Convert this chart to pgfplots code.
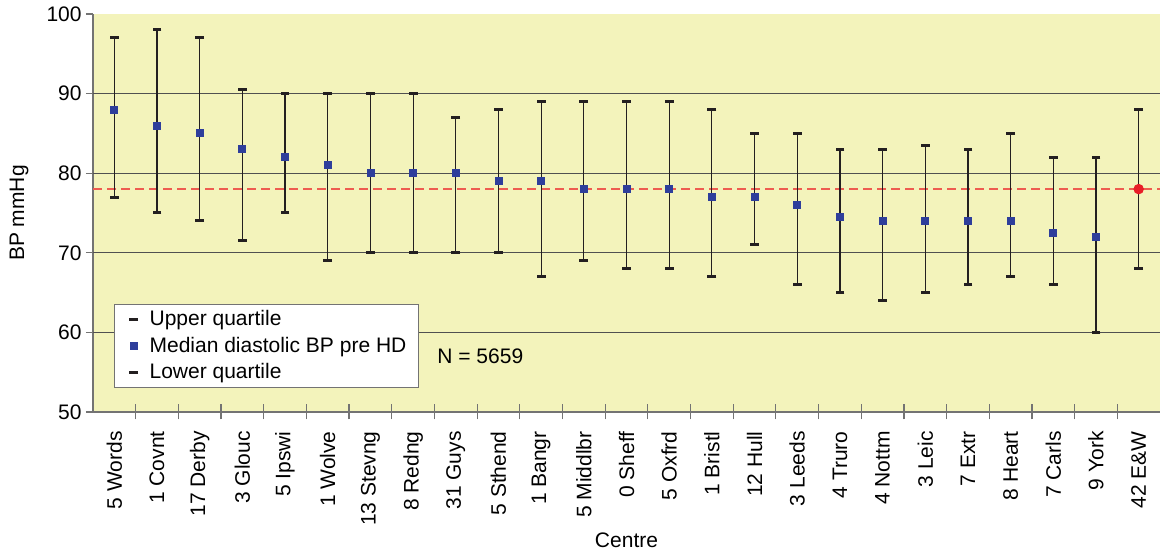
\documentclass[border=0pt]{standalone}
\usepackage{fontspec}
\setmainfont{Liberation Sans}
\usepackage{pgfplots}
\usepackage{pgfplotstable}
\pgfplotsset{compat=1.18}

\definecolor{bgyellow}{RGB}{243,243,187}
\definecolor{medblue}{RGB}{46,62,155}
\definecolor{dashred}{RGB}{238,92,80}
\definecolor{dotred}{RGB}{232,30,40}
\definecolor{capcol}{RGB}{35,31,32}
\definecolor{gridcol}{RGB}{80,80,80}
\definecolor{axiscol}{RGB}{115,115,115}

% diastolic BP pre HD by centre: upper quartile, median, lower quartile
\pgfplotstableread{
x  up    med   lo
1  97    88    77
2  98    86    75
3  97    85    74
4  90.5  83    71.5
5  90    82    75
6  90    81    69
7  90    80    70
8  90    80    70
9  87    80    70
10 88    79    70
11 89    79    67
12 89    78    69
13 89    78    68
14 89    78    68
15 88    77    67
16 85    77    71
17 85    76    66
18 83    74.5  65
19 83    74    64
20 83.5  74    65
21 83    74    66
22 85    74    67
23 82    72.5  66
24 82    72    60
25 88    78    68
}\bpdata

\newcommand{\lblfont}{\fontsize{10.5}{12.6}\selectfont}

\begin{document}
\begin{tikzpicture}
\begin{axis}[
  scale only axis,
  width=533.5pt, height=199pt,
  xmin=0.5, xmax=25.5,
  ymin=50, ymax=100,
  axis lines=left,
  axis line style={-, axiscol, line width=0.6pt},
  axis background/.style={fill=bgyellow},
  ytick={50,60,...,100},
  extra y ticks={60,70,80,90},
  extra y tick labels={},
  extra y tick style={ymajorgrids=true, major tick length=0pt},
  grid style={gridcol, line width=0.6pt},
  xtick={1,...,25},
  xticklabels={5 Words,1 Covnt,17 Derby,3 Glouc,5 Ipswi,1 Wolve,13 Stevng,8 Redng,31 Guys,5 Sthend,1 Bangr,5 Middlbr,0 Sheff,5 Oxfrd,1 Bristl,12 Hull,3 Leeds,4 Truro,4 Nottm,3 Leic,7 Extr,8 Heart,7 Carls,9 York,42 E\&W},
  major x tick style={draw=none},
  minor xtick={1.5,2.5,...,24.5},
  minor x tick style={axiscol, line width=0.6pt, yshift=3.75pt},
  minor tick length=7.5pt,
  major tick length=3.5pt,
  tick align=outside,
  y tick style={axiscol, line width=0.6pt},
  tick label style={font=\lblfont},
  /pgf/number format/assume math mode=true,
  x tick label style={rotate=90, anchor=east, inner sep=0pt},
  xticklabel shift=6pt,
  yticklabel style={inner sep=2pt},
  xlabel={Centre},
  ylabel={BP mmHg},
  label style={font=\lblfont},
  xlabel style={yshift=0pt},
  legend style={
    at={(0.0197,0.2714)}, anchor=north west,
    draw=axiscol, fill=white, line width=0.6pt,
    font=\lblfont, row sep=0pt,
    inner xsep=4pt, inner ysep=1pt,
    cells={anchor=west}
  },
  legend image code/.code={%
    \path (0pt,0pt) (10.9pt,0pt);
    \draw[#1] plot coordinates {(5.2pt,0pt)};},
  clip=false,
]

% reference line at the England & Wales median
\addplot[forget plot, dashred, line width=1pt, dash pattern=on 4.5pt off 2.5pt]
  coordinates {(0.5,78) (25.5,78)};

% interquartile whiskers
\addplot[forget plot, draw=none, mark=none,
  error bars/.cd, y dir=both, y explicit, error mark=none,
  error bar style={capcol, line width=0.6pt}]
  table[x=x, y=med,
        y error plus expr=\thisrow{up}-\thisrow{med},
        y error minus expr=\thisrow{med}-\thisrow{lo}] {\bpdata};

\addplot[only marks, mark=-, mark size=2.2pt,
  mark options={draw=capcol, line width=1.5pt}]
  table[x=x, y=up] {\bpdata};
\addlegendentry{Upper quartile}

\addplot[only marks, mark=square*, mark size=1.75pt, color=medblue]
  table[x=x, y=med, skip coords between index={24}{25}] {\bpdata};
\addlegendentry{Median diastolic BP pre HD}

\addplot[only marks, mark=-, mark size=2.2pt,
  mark options={draw=capcol, line width=1.5pt}]
  table[x=x, y=lo] {\bpdata};
\addlegendentry{Lower quartile}

% England & Wales median
\addplot[forget plot, only marks, mark=*, mark size=2.4pt, color=dotred]
  table[x=x, y=med, skip coords between index={0}{24}] {\bpdata};

\node[anchor=west, font=\lblfont, inner sep=0pt] at (axis cs:8.56,57) {N = 5659};
\end{axis}
\pgfresetboundingbox
\path ([xshift=-46.5pt,yshift=-71.5pt]current axis.south west)
  rectangle ([yshift=7pt]current axis.north east);
\end{tikzpicture}
\end{document}
